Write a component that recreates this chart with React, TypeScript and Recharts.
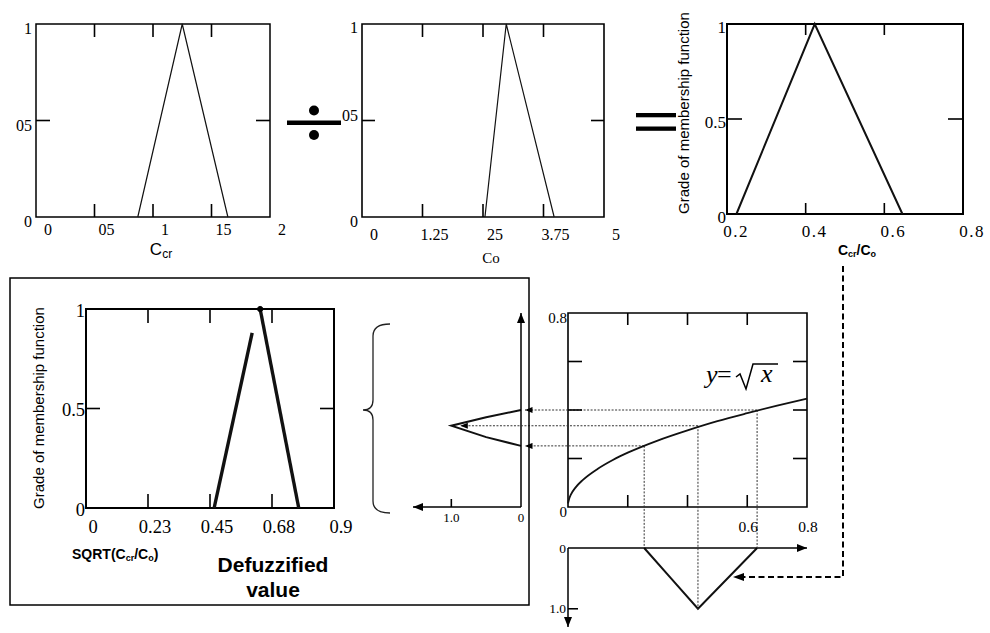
import React from 'react';
import { LineChart, Line, XAxis, YAxis, ReferenceArea, ReferenceLine, ReferenceDot } from 'recharts';

const SERIF = '"Liberation Serif", "Times New Roman", serif';
const SANS = '"Liberation Sans", Arial, sans-serif';

// ---- top row: Ccr ÷ Co = Ccr/Co ----
const ccrX = [0.87, 1.25, 1.64];
const ccrMu = [0, 1, 0];
const ccrTicks = [0, 0.5, 1, 1.5, 2];
const ccrTickText = ['0', '05', '1', '15', '2'];

const coX = [2.54, 2.98, 3.97];
const coMu = [0, 1, 0];
const coTicks = [0, 1.25, 2.5, 3.75, 5];
const coTickText = ['0', '1.25', '25', '3.75', '5'];

const ratioX = [0.224, 0.423, 0.646];
const ratioMu = [0, 1, 0];
const ratioTicks = [0.2, 0.4, 0.6, 0.8];
const ratioTickText = ['0.2', '0.4', '0.6', '0.8'];

const muTicks = [0, 0.5, 1];
const muTextScan = ['0', '05', '1'];
const muText = ['0', '0.5', '1'];

// ---- bottom left: SQRT(Ccr/Co) ----
const sqrtRiseX = [0.465, 0.603];
const sqrtRiseMu = [0, 0.88];
const sqrtFallX = [0.632, 0.772];
const sqrtFallMu = [1, 0];
const sqrtTicks = [0, 0.225, 0.45, 0.675, 0.9];
const sqrtTickText = ['0', '0.23', '0.45', '0.68', '0.9'];

// ---- bottom right: y = sqrt(x) mapping ----
const curveX = [0, 0.003, 0.01, 0.025, 0.05, 0.1, 0.15, 0.2, 0.3, 0.4, 0.5, 0.6, 0.7, 0.8];
const curveY = [0.015, 0.03, 0.052, 0.08, 0.112, 0.158, 0.194, 0.224, 0.274, 0.316, 0.354, 0.387, 0.418, 0.447];
const mapTicks = [0, 0.2, 0.4, 0.6, 0.8];
const mapXText = ['', '', '', '0.6', '0.8'];
const mapYText = ['0', '', '', '', '0.8'];
const pickX = [0.255, 0.435, 0.633];
const pickY = [0.252, 0.335, 0.4];

// output membership (left, lying on its side)
const outMu = [0, 0.5, 1, 0.5, 0];
const outY = [0.4, 0.37, 0.335, 0.288, 0.252];
const outTicks = [0, 1];
const outTickText = ['0', '1.0'];

// input membership (below, hanging down)
const inX = [0.255, 0.345, 0.435, 0.633];
const inMu = [0, 0.5, 1, 0];
const inTicks = [0, 1];
const inTickText = ['0', '1.0'];

const pts = (xs: number[], ys: number[]) => xs.map((x, i) => ({ x, y: ys[i] }));

type Box = { x: number; y: number; w: number; h: number };
const A: Box = { x: 36, y: 24, w: 234, h: 193 };
const B: Box = { x: 362, y: 24, w: 242, h: 193 };
const C: Box = { x: 727, y: 24, w: 236, h: 190 };
const D: Box = { x: 86, y: 309, w: 248, h: 199 };
const E: Box = { x: 568, y: 313, w: 239, h: 194 };
const F: Box = { x: 413, y: 313, w: 108, h: 194 };
const G: Box = { x: 568, y: 548, w: 239, h: 79 };

const fDomain = [0, 1.55];
const gDomain = [0, 1.3];

// where the connectors of the mapping plot end, in its own units
const eX = (px: number) => ((px - E.x) / E.w) * 0.8;
const eY = (py: number) => ((E.y + E.h - py) / E.h) * 0.8;
const leftAxisX = eX(F.x + F.w + 4);
const apexTipX = eX(F.x + F.w - F.w / fDomain[1] + 9);
const lowAxisY = eY(G.y);
const lowApexY = eY(G.y + (1 / gDomain[1]) * G.h);

type TickOpt = {
  ticks: number[]; text: string[]; domain: number[];
  dx?: number; dy?: number; dys?: number[]; len?: number; span?: number; in?: number;
  size?: number; family?: string; sw?: number; ls?: number;
};

const xTick = (o: TickOpt) => (p: any) => {
  const v = p.payload.value;
  const i = o.ticks.indexOf(v);
  const edge = v === o.domain[0] || v === o.domain[1];
  const len = o.len ?? 0;
  const s = o.in ?? -1;
  const sw = o.sw ?? 1.6;
  return (
    <g>
      {len > 0 && !edge && <line x1={p.x} x2={p.x} y1={p.y} y2={p.y + s * len} stroke="#000" strokeWidth={sw} />}
      {len > 0 && !edge && o.span ? (
        <line x1={p.x} x2={p.x} y1={p.y + s * o.span} y2={p.y + s * (o.span - len)} stroke="#000" strokeWidth={sw} />
      ) : null}
      <text x={p.x + (o.dx ?? 0)} y={p.y + (o.dys ? o.dys[i] : o.dy ?? 0)} textAnchor="middle"
        fontFamily={o.family ?? SERIF} fontSize={o.size ?? 16} letterSpacing={o.ls ?? 0} fill="#000">{o.text[i]}</text>
    </g>
  );
};

const yTick = (o: TickOpt) => (p: any) => {
  const v = p.payload.value;
  const i = o.ticks.indexOf(v);
  const edge = v === o.domain[0] || v === o.domain[1];
  const len = o.len ?? 0;
  const s = o.in ?? 1;
  const sw = o.sw ?? 1.6;
  return (
    <g>
      {len > 0 && !edge && <line x1={p.x} x2={p.x + s * len} y1={p.y} y2={p.y} stroke="#000" strokeWidth={sw} />}
      {len > 0 && !edge && o.span ? (
        <line x1={p.x + s * o.span} x2={p.x + s * (o.span - len)} y1={p.y} y2={p.y} stroke="#000" strokeWidth={sw} />
      ) : null}
      <text x={p.x + (o.dx ?? 0)} y={p.y + (o.dys ? o.dys[i] : o.dy ?? 0)} textAnchor="end"
        fontFamily={o.family ?? SERIF} fontSize={o.size ?? 16} fill="#000">{o.text[i]}</text>
    </g>
  );
};

function Panel({ box, pad, xSide = 'bottom', ySide = 'left', children }: any) {
  const margin = {
    top: pad.t - (xSide === 'top' ? 1 : 0),
    bottom: pad.b - (xSide === 'bottom' ? 1 : 0),
    left: pad.l - (ySide === 'left' ? 1 : 0),
    right: pad.r - (ySide === 'right' ? 1 : 0),
  };
  return (
    <div style={{ position: 'absolute', left: box.x - pad.l, top: box.y - pad.t }}>
      <LineChart width={box.w + pad.l + pad.r} height={box.h + pad.t + pad.b} margin={margin}>
        {children}
      </LineChart>
    </div>
  );
}

function Triangle({ box, xDomain, xTicks, xText, yText, data, xo, yo, frame, stroke, children }: any) {
  return (
    <Panel box={box} pad={{ l: 36, t: 14, r: 26, b: 30 }}>
      <XAxis type="number" dataKey="x" domain={xDomain} ticks={xTicks} interval={0} height={1}
        axisLine={false} tickLine={false} tickSize={0} tickMargin={0}
        tick={xTick({ ticks: xTicks, text: xText, domain: xDomain, span: box.h, ...xo })} />
      <YAxis type="number" dataKey="y" domain={[0, 1]} ticks={muTicks} interval={0} width={1}
        axisLine={false} tickLine={false} tickSize={0} tickMargin={0}
        tick={yTick({ ticks: muTicks, text: yText, domain: [0, 1], span: box.w, ...yo })} />
      <ReferenceArea x1={xDomain[0]} x2={xDomain[1]} y1={0} y2={1} fill="none" fillOpacity={0}
        stroke="#000" strokeWidth={frame} ifOverflow="visible" />
      {data.map((d: any, i: number) => (
        <Line key={i} data={d} dataKey="y" type="linear" dot={false} stroke="#111" strokeWidth={stroke}
          strokeLinejoin="miter" isAnimationActive={false} />
      ))}
      {children}
    </Panel>
  );
}

export default function App() {
  const dotted = { stroke: '#333', strokeWidth: 1, strokeDasharray: '2 1.5', ifOverflow: 'visible' as const };
  return (
    <div style={{ position: 'absolute', left: 0, top: 0, width: 990, height: 633, background: '#fff', overflow: 'hidden' }}>
      {/* Ccr */}
      <Triangle box={A} xDomain={[0, 2]} xTicks={ccrTicks} xText={ccrTickText} yText={muTextScan}
        data={[pts(ccrX, ccrMu)]} frame={1.5} stroke={1.2}
        xo={{ dx: 12, dy: 18, len: 13 }} yo={{ dx: -4, dy: 10, len: 14 }} />
      {/* Co */}
      <Triangle box={B} xDomain={[0, 5]} xTicks={coTicks} xText={coTickText} yText={muTextScan}
        data={[pts(coX, coMu)]} frame={1.6} stroke={1.2}
        xo={{ dx: 12, dy: 23, len: 13 }} yo={{ dx: -4, dys: [10, 0, 9], len: 13 }} />
      {/* Ccr/Co */}
      <Triangle box={C} xDomain={[0.2, 0.8]} xTicks={ratioTicks} xText={ratioTickText} yText={muText}
        data={[pts(ratioX, ratioMu)]} frame={2} stroke={2}
        xo={{ dx: 9, dy: 22.5, len: 11, size: 17, ls: 1.5 }} yo={{ dx: -1, dy: 9, len: 15, size: 17 }} />
      {/* SQRT(Ccr/Co) */}
      <Triangle box={D} xDomain={[0, 0.9]} xTicks={sqrtTicks} xText={sqrtTickText} yText={muText}
        data={[pts(sqrtRiseX, sqrtRiseMu), pts(sqrtFallX, sqrtFallMu)]} frame={2} stroke={3.4}
        xo={{ dx: 7, dy: 25, len: 14, size: 18.5 }} yo={{ dx: -1, dy: 7.5, len: 14, size: 18.5 }}>
        <ReferenceDot x={sqrtFallX[0]} y={sqrtFallMu[0]} r={2.6} fill="#000" stroke="#000" ifOverflow="visible" />
      </Triangle>

      {/* output membership lying on its side */}
      <Panel box={F} pad={{ l: 6, t: 8, r: 8, b: 20 }} ySide="right">
        <XAxis type="number" dataKey="x" domain={fDomain} ticks={outTicks} interval={0} reversed height={1}
          axisLine={{ stroke: '#000', strokeWidth: 1.5, markerStart: 'url(#tip)' }} tickLine={false} tickSize={0} tickMargin={0}
          tick={xTick({ ticks: outTicks, text: outTickText, domain: fDomain, dy: 15, len: 8, size: 13 })} />
        <YAxis type="number" dataKey="y" orientation="right" domain={[0, 0.8]} width={1}
          axisLine={{ stroke: '#000', strokeWidth: 1.5, markerStart: 'url(#tip)' }} tickLine={false} tick={false} />
        <Line data={pts(outMu, outY)} dataKey="y" type="linear" dot={false} stroke="#111" strokeWidth={2}
          strokeLinejoin="miter" isAnimationActive={false} />
      </Panel>

      {/* input membership hanging below */}
      <Panel box={G} pad={{ l: 30, t: 8, r: 8, b: 8 }} xSide="top">
        <XAxis type="number" dataKey="x" orientation="top" domain={[0, 0.8]} height={1}
          axisLine={{ stroke: '#000', strokeWidth: 1.5, markerEnd: 'url(#tip)' }} tickLine={false} tick={false} />
        <YAxis type="number" dataKey="y" domain={gDomain} ticks={inTicks} interval={0} reversed width={1}
          axisLine={{ stroke: '#000', strokeWidth: 1.5, markerEnd: 'url(#tip)' }} tickLine={false} tickSize={0} tickMargin={0}
          tick={yTick({ ticks: inTicks, text: inTickText, domain: gDomain, dx: -2, dy: 4.5, len: 10, size: 13.5 })} />
        <Line data={pts(inX, inMu)} dataKey="y" type="linear" dot={false} stroke="#111" strokeWidth={2}
          strokeLinejoin="miter" isAnimationActive={false} />
      </Panel>

      {/* y = sqrt(x) */}
      <Panel box={E} pad={{ l: 113, t: 13, r: 13, b: 108 }}>
        <XAxis type="number" dataKey="x" domain={[0, 0.8]} ticks={mapTicks} interval={0} height={1}
          axisLine={false} tickLine={false} tickSize={0} tickMargin={0}
          tick={xTick({ ticks: mapTicks, text: mapXText, domain: [0, 0.8], dx: 1, dy: 25, len: 12, span: E.h, size: 15.5 })} />
        <YAxis type="number" dataKey="y" domain={[0, 0.8]} ticks={mapTicks} interval={0} width={1}
          axisLine={false} tickLine={false} tickSize={0} tickMargin={0}
          tick={yTick({ ticks: mapTicks, text: mapYText, domain: [0, 0.8], dx: -1, dy: 9.5, len: 14, span: E.w, size: 15 })} />
        <ReferenceArea x1={0} x2={0.8} y1={0} y2={0.8} fill="none" fillOpacity={0} stroke="#000" strokeWidth={1.6} ifOverflow="visible" />
        {pickX.map((x, i) => (
          <ReferenceLine key={'h' + i} {...dotted} markerEnd="url(#tipS)"
            segment={[{ x, y: pickY[i] }, { x: i === 1 ? apexTipX : leftAxisX, y: pickY[i] }]} />
        ))}
        {pickX.map((x, i) => (
          <ReferenceLine key={'v' + i} {...dotted}
            segment={[{ x, y: pickY[i] }, { x, y: i === 1 ? lowApexY : lowAxisY }]} />
        ))}
        <Line data={pts(curveX, curveY)} dataKey="y" type="monotone" dot={false} stroke="#111" strokeWidth={1.8}
          isAnimationActive={false} />
      </Panel>

      <svg width={990} height={633} style={{ position: 'absolute', left: 0, top: 0, pointerEvents: 'none' }}>
        <defs>
          <marker id="tip" viewBox="0 0 10 8" refX="10" refY="4" markerWidth="10" markerHeight="8"
            markerUnits="userSpaceOnUse" orient="auto-start-reverse">
            <path d="M0,0L10,4L0,8z" fill="#000" />
          </marker>
          <marker id="tipS" viewBox="0 0 10 8" refX="10" refY="4" markerWidth="8" markerHeight="6"
            markerUnits="userSpaceOnUse" orient="auto-start-reverse">
            <path d="M0,0L10,4L0,8z" fill="#000" />
          </marker>
        </defs>

        {/* divide and equals */}
        <rect x={287} y={120.5} width={54} height={4.5} fill="#000" />
        <circle cx={314} cy={110.5} r={5} fill="#000" />
        <circle cx={314} cy={135} r={5} fill="#000" />
        <rect x={636} y={113} width={40} height={4.3} fill="#000" />
        <rect x={636} y={126.5} width={40} height={4.3} fill="#000" />

        {/* axis titles, top row */}
        <text x={161} y={255} textAnchor="middle" fontFamily={SANS} fontSize={17}>C<tspan fontSize={12} dy={3}>cr</tspan></text>
        <text x={491} y={263} textAnchor="middle" fontFamily={SERIF} fontSize={15}>Co</text>
        <text x={857} y={255} textAnchor="middle" fontFamily={SANS} fontWeight="bold" fontSize={14}>
          C<tspan fontSize={9} dy={2}>cr</tspan><tspan dy={-2}>/C</tspan><tspan fontSize={9} dy={2}>o</tspan>
        </text>
        <text transform="translate(689,113) rotate(-90)" textAnchor="middle" fontFamily={SANS} fontSize={15}>Grade of membership function</text>

        {/* bottom-left box */}
        <rect x={10} y={278} width={519} height={327} fill="none" stroke="#000" strokeWidth={1.5} />
        <text transform="translate(44,408) rotate(-90)" textAnchor="middle" fontFamily={SANS} fontSize={15}>Grade of membership function</text>
        <text x={72} y={559} fontFamily={SANS} fontWeight="bold" fontSize={14}>
          SQRT(C<tspan fontSize={9} dy={2}>cr</tspan><tspan dy={-2}>/C</tspan><tspan fontSize={9} dy={2}>o</tspan><tspan dy={-2}>)</tspan>
        </text>
        <text x={273} y={572} textAnchor="middle" fontFamily={SANS} fontWeight="bold" fontSize={21}>Defuzzified</text>
        <text x={273} y={597} textAnchor="middle" fontFamily={SANS} fontWeight="bold" fontSize={21}>value</text>
        <path d="M390,324 Q373,324 373,336 L373,400 Q373,410 363,410 Q373,410 373,420 L373,501 Q373,513 390,513"
          fill="none" stroke="#222" strokeWidth={1.3} />

        {/* y = sqrt(x) label */}
        <text x={706} y={383} fontFamily={SERIF} fontSize={26} fontStyle="italic">y</text>
        <text x={717} y={383} fontFamily={SERIF} fontSize={26}>=</text>
        <path d="M736,377 L740,374 L746,389 L753,364 L778,364" fill="none" stroke="#000" strokeWidth={1.5} />
        <text x={761} y={382} fontFamily={SERIF} fontSize={26} fontStyle="italic">x</text>

        {/* dashed link from Ccr/Co to the input membership */}
        <path d="M843,266 L843,577 L742,577" fill="none" stroke="#000" strokeWidth={2} strokeDasharray="6 3.5" />
        <path d="M733,577 L744,573 L744,581 z" fill="#000" />
      </svg>
    </div>
  );
}
